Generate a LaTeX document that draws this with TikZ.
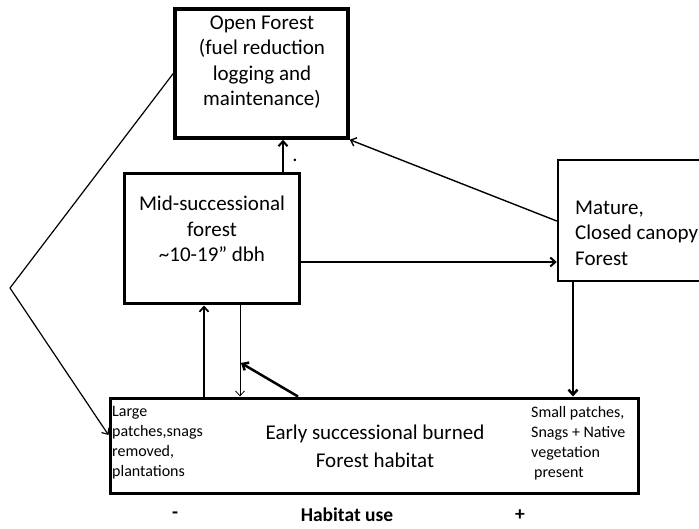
\documentclass[tikz,border=0pt]{standalone}
\usepackage{fontspec}
\setmainfont{Carlito}
\usetikzlibrary{arrows.meta}
\begin{document}
\begin{tikzpicture}[x=1pt,y=-1pt,
  boxstyle/.style={draw,line width=3pt,inner sep=0pt,rectangle},
  bigtxt/.style={font=\fontsize{21}{25.5}\selectfont,align=center,inner sep=0pt},
  smalltxt/.style={font=\fontsize{16}{20}\selectfont,align=left,inner sep=0pt,anchor=west},
  axistxt/.style={font=\bfseries\fontsize{19.5}{22}\selectfont,inner sep=0pt},
  barb/.style={-{Straight Barb[length=5pt,width=9pt]}}]
\useasboundingbox (0,0) rectangle (699,529);
% boxes
\node[boxstyle,line width=3.5pt,minimum width=173pt,minimum height=129pt] (open) at (261.5,73.5) {};
\node[boxstyle,minimum width=175pt,minimum height=130pt] (mid) at (211.5,239) {};
\node[boxstyle,line width=2.5pt,minimum width=240pt,minimum height=121pt] (mature) at (678,220.5) {};
\node[boxstyle,minimum width=528pt,minimum height=95pt] (early) at (374,445.5) {};
% texts
\node[bigtxt] (opentxt) at (262,62) {Open Forest\\(fuel reduction\\logging and\\maintenance)};
\node[bigtxt] (midtxt) at (212,229) {Mid-successional\\forest\\\textasciitilde10-19” dbh};
\node[bigtxt,align=left,anchor=west] (mattxt) at (575,233) {Mature,\\Closed canopy\\Forest};
\node[bigtxt,font=\fontsize{21}{28}\selectfont] (earlytxt) at (375,446) {Early successional burned\\Forest habitat};
\node[smalltxt] (lefttxt) at (112,443) {Large\\patches,snags\\removed,\\plantations};
\node[smalltxt] (righttxt) at (531,443) {Small patches,\\Snags + Native\\vegetation\\\hspace{3pt}present};
\node[axistxt] (minus) at (175,515) {-};
\node[axistxt] (use) at (347,515) {Habitat use};
\node[axistxt] (plus) at (520,515) {+};
\node[bigtxt] (dot) at (295,160) {.};
% helper coordinates
\coordinate (xa) at (283,0);
\coordinate (ya) at (0,262);
\coordinate (xb) at (573,0);
\coordinate (bend) at (10,288);
\coordinate (yb) at (0,435);
\coordinate (xc) at (204,0);
\coordinate (xd) at (240,0);
\coordinate (xe) at (298,0);
\coordinate (yc) at (0,221);
\coordinate (hit) at (241,363);
% connectors
\draw[barb,line width=2pt] (mid.north -| xa) -- (open.south -| xa);
\draw[barb,line width=1.4pt] (mature.west |- yc) -- (open.south east);
\draw[barb,line width=2pt] (mid.east |- ya) -- (mature.west |- ya);
\draw[barb,line width=2.5pt] (mature.south -| xb) -- (early.north -| xb);
\draw[barb,line width=1.2pt] (open.west) -- (bend) -- (early.west |- yb);
\draw[barb,line width=1.7pt] (early.north -| xc) -- (mid.south -| xc);
\draw[barb,line width=0.8pt] (mid.south -| xd) -- (early.north -| xd);
\draw[barb,line width=2.5pt] (early.north -| xe) -- (hit);
\end{tikzpicture}
\end{document}
